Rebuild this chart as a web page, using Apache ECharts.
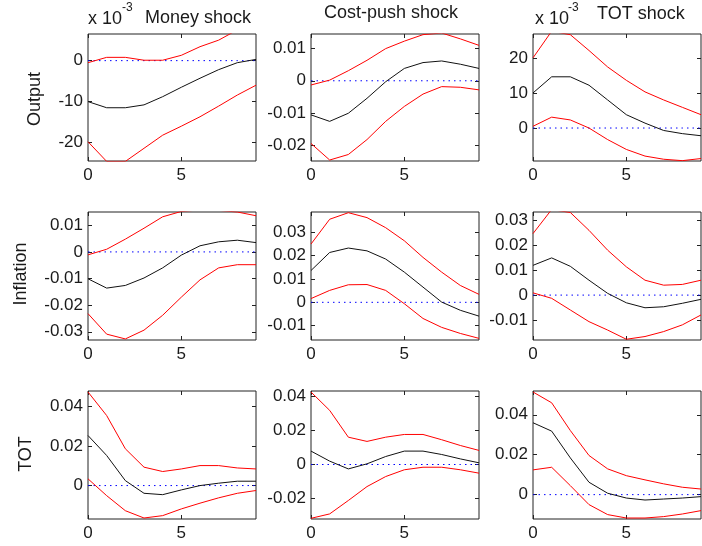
<!DOCTYPE html>
<html>
<head>
<meta charset="utf-8">
<script src="https://cdn.jsdelivr.net/npm/echarts@6/dist/echarts.min.js"></script>
<style>
  html, body { margin: 0; padding: 0; background: #fff; }
  #chart { width: 702px; height: 546px; }
</style>
</head>
<body>
<div id="chart"></div>
<script>
// horizon (periods after the shock)
var periods = [0, 1, 2, 3, 4, 5, 6, 7, 8, 9]
var xTicks = [0, 5]

// Output responses
var outMoneyMid = [-0.0100, -0.0115, -0.0115, -0.0108, -0.0088, -0.0065, -0.0043, -0.0022, -0.0005, 0.0003]
var outMoneyHi = [-0.0005, 0.0008, 0.0008, 0.0001, 0.0001, 0.0013, 0.0034, 0.0050, 0.0075, 0.0095]
var outMoneyLo = [-0.0198, -0.0246, -0.0246, -0.0214, -0.0182, -0.0160, -0.0137, -0.0111, -0.0084, -0.0060]

var outCostMid = [-0.0105, -0.0125, -0.0100, -0.0054, -0.0003, 0.0038, 0.0056, 0.0061, 0.0051, 0.0038]
var outCostHi = [-0.0013, 0.0002, 0.0031, 0.0063, 0.0099, 0.0122, 0.0142, 0.0147, 0.0129, 0.0109]
var outCostLo = [-0.0193, -0.0244, -0.0227, -0.0181, -0.0125, -0.0079, -0.0041, -0.0018, -0.0020, -0.0028]

var outTotMid = [0.0100, 0.0146, 0.0146, 0.0122, 0.0080, 0.0038, 0.0014, -0.0007, -0.0016, -0.0022]
var outTotHi = [0.0200, 0.0276, 0.0266, 0.0221, 0.0174, 0.0136, 0.0103, 0.0080, 0.0059, 0.0038]
var outTotLo = [0.0005, 0.0031, 0.0023, 0.0000, -0.0033, -0.0061, -0.0080, -0.0089, -0.0093, -0.0087]

// Inflation responses
var infMoneyMid = [-0.0101, -0.0136, -0.0126, -0.0098, -0.0060, -0.0012, 0.0023, 0.0038, 0.0044, 0.0035]
var infMoneyHi = [-0.0011, 0.0010, 0.0048, 0.0089, 0.0132, 0.0152, 0.0158, 0.0156, 0.0150, 0.0136]
var infMoneyLo = [-0.0232, -0.0309, -0.0327, -0.0294, -0.0238, -0.0170, -0.0105, -0.0060, -0.0048, -0.0048]

var infCostMid = [0.0136, 0.0213, 0.0232, 0.0220, 0.0185, 0.0129, 0.0065, 0.0001, -0.0034, -0.0059]
var infCostHi = [0.0249, 0.0355, 0.0383, 0.0362, 0.0319, 0.0263, 0.0192, 0.0129, 0.0072, 0.0034]
var infCostLo = [0.0016, 0.0051, 0.0075, 0.0076, 0.0051, -0.0006, -0.0069, -0.0107, -0.0133, -0.0154]

var infTotMid = [0.0120, 0.0150, 0.0116, 0.0060, 0.0007, -0.0031, -0.0051, -0.0047, -0.0033, -0.0017]
var infTotHi = [0.0248, 0.0345, 0.0333, 0.0261, 0.0181, 0.0114, 0.0060, 0.0040, 0.0043, 0.0060]
var infTotLo = [0.0009, -0.0013, -0.0060, -0.0107, -0.0141, -0.0178, -0.0167, -0.0147, -0.0120, -0.0080]

// TOT responses
var totMoneyMid = [0.0253, 0.0152, 0.0025, -0.0039, -0.0046, -0.0022, 0.0000, 0.0012, 0.0022, 0.0022]
var totMoneyHi = [0.0473, 0.0354, 0.0186, 0.0093, 0.0071, 0.0084, 0.0101, 0.0101, 0.0089, 0.0084]
var totMoneyLo = [0.0034, -0.0051, -0.0127, -0.0164, -0.0152, -0.0118, -0.0089, -0.0062, -0.0039, -0.0025]

var totCostMid = [0.0079, 0.0020, -0.0026, 0.0004, 0.0047, 0.0079, 0.0079, 0.0059, 0.0033, 0.0010]
var totCostHi = [0.0427, 0.0319, 0.0161, 0.0136, 0.0161, 0.0177, 0.0177, 0.0146, 0.0112, 0.0083]
var totCostLo = [-0.0317, -0.0291, -0.0212, -0.0130, -0.0071, -0.0031, -0.0016, -0.0016, -0.0031, -0.0051]

var totTotMid = [0.0360, 0.0318, 0.0184, 0.0062, 0.0007, -0.0017, -0.0027, -0.0022, -0.0017, -0.0010]
var totTotHi = [0.0514, 0.0460, 0.0321, 0.0196, 0.0129, 0.0095, 0.0074, 0.0054, 0.0037, 0.0028]
var totTotLo = [0.0124, 0.0137, 0.0045, -0.0050, -0.0100, -0.0117, -0.0117, -0.0110, -0.0097, -0.0080]

// y tick values for each panel
var ticksOutMoney = [-0.02, -0.01, 0]
var ticksOutCost = [-0.02, -0.01, 0, 0.01]
var ticksOutTot = [0, 0.01, 0.02]
var ticksInfMoney = [-0.03, -0.02, -0.01, 0, 0.01]
var ticksInfCost = [-0.01, 0, 0.01, 0.02, 0.03]
var ticksInfTot = [-0.01, 0, 0.01, 0.02, 0.03]
var ticksTotMoney = [0, 0.02, 0.04]
var ticksTotCost = [-0.02, 0, 0.02, 0.04]
var ticksTotTot = [0, 0.02, 0.04]

var panels = [
  { mid: outMoneyMid, hi: outMoneyHi, lo: outMoneyLo, min: -0.0245, max: 0.0065, ticks: ticksOutMoney, milli: true },
  { mid: outCostMid, hi: outCostHi, lo: outCostLo, min: -0.0247, max: 0.0144, ticks: ticksOutCost },
  { mid: outTotMid, hi: outTotHi, lo: outTotLo, min: -0.0094, max: 0.0268, ticks: ticksOutTot, milli: true },
  { mid: infMoneyMid, hi: infMoneyHi, lo: infMoneyLo, min: -0.0331, max: 0.0150, ticks: ticksInfMoney },
  { mid: infCostMid, hi: infCostHi, lo: infCostLo, min: -0.0161, max: 0.0386, ticks: ticksInfCost },
  { mid: infTotMid, hi: infTotHi, lo: infTotLo, min: -0.0181, max: 0.0335, ticks: ticksInfTot },
  { mid: totMoneyMid, hi: totMoneyHi, lo: totMoneyLo, min: -0.0169, max: 0.0478, ticks: ticksTotMoney },
  { mid: totCostMid, hi: totCostHi, lo: totCostLo, min: -0.0321, max: 0.0433, ticks: ticksTotCost },
  { mid: totTotMid, hi: totTotHi, lo: totTotLo, min: -0.0122, max: 0.0519, ticks: ticksTotTot }
]

var colLeft = [88, 311, 533]
var rowTop = [34, 212, 391]
var rowHeight = [127, 128, 128]
var FONT = 'Liberation Sans, Arial, sans-serif'
var TXT = '#1a1a1a'

function pairs(arr) {
  return periods.map(function(t, i) { return [t, arr[i]] })
}

var grid = []
var xAxis = []
var yAxis = []
var series = []

panels.forEach(function(p, k) {
  var r = Math.floor(k / 3)
  var c = k % 3
  grid.push({
    left: colLeft[c], top: rowTop[r], width: 168, height: rowHeight[r],
    show: true, borderColor: '#222', borderWidth: 1, backgroundColor: 'transparent'
  })
  var fmt = p.milli
    ? function(v) { return String(Math.round(v * 1000)) }
    : function(v) { return String(Math.round(v * 100) / 100) }
  // bottom + top x axes (top one only mirrors the ticks)
  ;[false, true].forEach(function(isTop) {
    xAxis.push({
      type: 'value', gridIndex: k, min: 0, max: 9,
      position: isTop ? 'top' : 'bottom',
      axisLine: { show: false, onZero: false },
      splitLine: { show: false },
      axisTick: { show: true, inside: true, length: 4, customValues: xTicks, lineStyle: { color: '#222' }},
      axisLabel: {
        show: !isTop, customValues: xTicks, margin: 6,
        color: TXT, fontSize: 17, fontFamily: FONT
      }
    })
  })
  ;[false, true].forEach(function(isRight) {
    yAxis.push({
      type: 'value', gridIndex: k, min: p.min, max: p.max,
      position: isRight ? 'right' : 'left',
      axisLine: { show: false, onZero: false },
      splitLine: { show: false },
      axisTick: { show: true, inside: true, length: 4, customValues: p.ticks, lineStyle: { color: '#222' }},
      axisLabel: {
        show: !isRight, customValues: p.ticks, margin: 5, formatter: fmt,
        color: TXT, fontSize: 17, fontFamily: FONT
      }
    })
  })
  var xi = k * 2
  var yi = k * 2
  series.push({
    type: 'line', xAxisIndex: xi, yAxisIndex: yi, symbol: 'none', silent: true,
    data: pairs(periods.map(function() { return 0 })),
    lineStyle: { color: '#0000ff', width: 1, type: [1.5, 4] }
  })
  series.push({
    type: 'line', xAxisIndex: xi, yAxisIndex: yi, symbol: 'none', silent: true,
    data: pairs(p.hi), lineStyle: { color: '#ff0000', width: 1 }
  })
  series.push({
    type: 'line', xAxisIndex: xi, yAxisIndex: yi, symbol: 'none', silent: true,
    data: pairs(p.lo), lineStyle: { color: '#ff0000', width: 1 }
  })
  series.push({
    type: 'line', xAxisIndex: xi, yAxisIndex: yi, symbol: 'none', silent: true,
    data: pairs(p.mid), lineStyle: { color: '#111', width: 1 }
  })
})

function txt(s, x, y, size, rot) {
  return {
    type: 'text', x: x, y: y, rotation: rot || 0,
    style: {
      text: s, font: size + 'px ' + FONT, fill: TXT,
      textAlign: rot ? 'center' : 'left', textVerticalAlign: 'middle'
    }
  }
}

var chart = echarts.init(document.getElementById('chart'))
chart.setOption({
  animation: false,
  grid: grid,
  xAxis: xAxis,
  yAxis: yAxis,
  series: series,
  graphic: [
    txt('x 10', 88, 19, 18),
    txt('-3', 122, 7.5, 12),
    txt('Money shock', 145, 18, 18),
    txt('Cost-push shock', 324, 13, 18),
    txt('x 10', 535, 19, 18),
    txt('-3', 568, 7.5, 12),
    txt('TOT shock', 597, 14, 18),
    txt('Output', 35, 99, 18, Math.PI / 2),
    txt('Inflation', 21, 274, 18, Math.PI / 2),
    txt('TOT', 26, 454, 18, Math.PI / 2)
  ]
})
</script>
</body>
</html>
